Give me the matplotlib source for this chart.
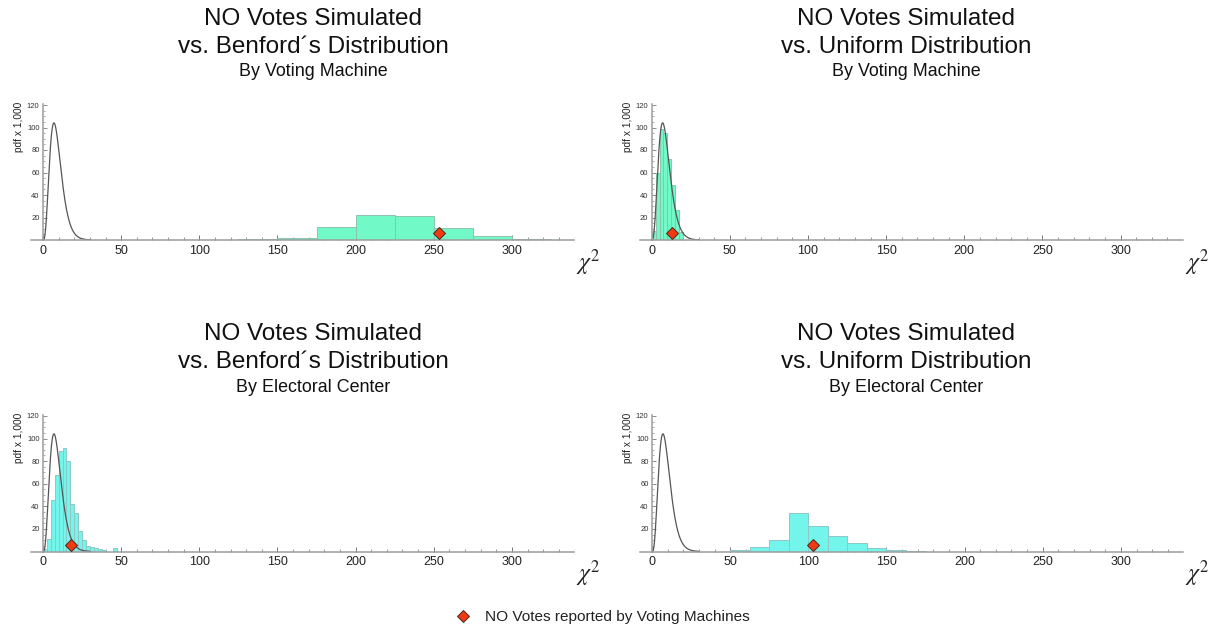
import math
import numpy as np
import matplotlib
matplotlib.use("Agg")
import matplotlib.pyplot as plt
from matplotlib.ticker import FixedLocator
from matplotlib.lines import Line2D

plt.rcParams['font.family'] = ['Liberation Sans', 'DejaVu Sans']
plt.rcParams['mathtext.fontset'] = 'stix'

# ---------------- data ----------------
title_line1 = "NO Votes Simulated"
title_line2 = ["vs. Benford\u00b4s Distribution", "vs. Uniform Distribution",
               "vs. Benford\u00b4s Distribution", "vs. Uniform Distribution"]
title_line3 = ["By Voting Machine", "By Voting Machine",
               "By Electoral Center", "By Electoral Center"]

# histogram bins (pdf x 1,000)
tl_bin_start, tl_bin_width = 125, 25
tl_heights = [0.9, 2.1, 11.8, 22.1, 21.2, 10.5, 3.5, 1.2]

tr_bin_start, tr_bin_width = 0, 2.5
tr_heights = [8, 59.5, 99, 95, 72, 49, 26.5, 7]

bl_bin_start, bl_bin_width = 0, 2.5
bl_heights = [2, 11, 46, 67.5, 89, 92, 80, 42, 34, 18, 10, 5, 4, 3, 2.5, 1.2, 0, 0, 3.5]

br_bin_start, br_bin_width = 50, 12.5
br_heights = [1.2, 3.8, 10.6, 34.5, 23, 13.5, 7.5, 3.2, 1.3, 0.6]

# reported chi-square statistic (red diamonds)
reported_x = [253.5, 12.7, 18.2, 102.8]
reported_y = [6, 6, 6, 6]

# theoretical chi-square density
chi_df = 9
curve_xmax = 30

x_ticks = [0, 50, 100, 150, 200, 250, 300]
y_ticks = [20, 40, 60, 80, 100, 120]

legend_label = "NO Votes reported by Voting Machines"

# ---------------- style ----------------
green = '#72F9C8'
cyan = '#74F5EC'
bar_colors = [green, green, cyan, cyan]
bar_edges = ['#8CC4AE', '#8CC4AE', '#8CC8C6', '#8CC8C6']
axis_gray = '#9c9c9c'
W, H = 1211, 630

fig = plt.figure(figsize=(W / 100, H / 100), dpi=100)

xlim = (-7.4, 340)
ylim = (0, 121)
px_per_unit_x = 1.563
px_per_unit_y = [1.125, 1.125, 1.13, 1.13]
yaxis_px = [43, 651.7, 43, 652]
xaxis_px = [240, 240, 551.5, 551.5]
title_cx = [313, 906, 313, 906]
title_y = [[19, 47, 72], [19, 47, 72], [334, 362, 387], [334, 362, 387]]

hist_data = [(tl_bin_start, tl_bin_width, tl_heights),
             (tr_bin_start, tr_bin_width, tr_heights),
             (bl_bin_start, bl_bin_width, bl_heights),
             (br_bin_start, br_bin_width, br_heights)]

xc = np.linspace(0, curve_xmax, 400)
norm = 2 ** (chi_df / 2) * math.gamma(chi_df / 2)
yc = 1000 * xc ** (chi_df / 2 - 1) * np.exp(-xc / 2) / norm

for i in range(4):
    x0 = yaxis_px[i] + xlim[0] * px_per_unit_x
    x1 = yaxis_px[i] + xlim[1] * px_per_unit_x
    yb = xaxis_px[i]
    yt = yb - ylim[1] * px_per_unit_y[i]
    ax = fig.add_axes([x0 / W, 1 - yb / H, (x1 - x0) / W, (yb - yt) / H])
    ax.set_xlim(*xlim)
    ax.set_ylim(*ylim)
    ax.patch.set_visible(False)

    start, width, heights = hist_data[i]
    lefts = [start + k * width for k in range(len(heights))]
    ax.bar(lefts, heights, width=width, align='edge', color=bar_colors[i],
           edgecolor=bar_edges[i], linewidth=0.7, zorder=2)
    ax.plot(xc, yc, color='#555555', lw=0.9, zorder=3)
    ax.plot([reported_x[i]], [reported_y[i]], marker='D', ms=6.2, color='#F03A12',
            mec='#4a2a20', mew=0.7, ls='none', zorder=5)

    for s in ['top', 'right']:
        ax.spines[s].set_visible(False)
    ax.spines['left'].set_position(('data', 0))
    for s in ['left', 'bottom']:
        ax.spines[s].set_color(axis_gray)
        ax.spines[s].set_linewidth(1.1)
        ax.spines[s].set_zorder(4)

    ax.xaxis.set_major_locator(FixedLocator(x_ticks))
    ax.xaxis.set_minor_locator(FixedLocator([v for v in range(10, 340, 10) if v % 50]))
    ax.yaxis.set_major_locator(FixedLocator(y_ticks))
    ax.yaxis.set_minor_locator(FixedLocator([v for v in range(5, 121, 5) if v % 20]))
    ax.tick_params(axis='x', which='major', direction='in', length=3.5, width=0.7,
                   color='#777777', labelsize=9, labelcolor='#222222', pad=3.5)
    ax.tick_params(axis='x', which='minor', direction='in', length=2, width=0.6,
                   color='#888888')
    ax.tick_params(axis='y', which='major', direction='in', length=3, width=0.6,
                   color='#777777', labelsize=5.5, labelcolor='#333333', pad=2.5)
    ax.tick_params(axis='y', which='minor', direction='in', length=1.6, width=0.5,
                   color='#888888')

    ax.annotate('pdf x 1,000', xy=(0, 1), xycoords=('data', 'axes fraction'),
                xytext=(-24 * 0.72, 2.5 * 0.72), textcoords='offset points',
                rotation=90, ha='center', va='top', fontsize=7.3, color='#222222')
    ax.annotate(r'$\chi^2$', xy=(1, 0), xycoords='axes fraction',
                xytext=(2 * 0.72, -7 * 0.72), textcoords='offset points',
                ha='left', va='top', fontsize=17, color='#222222')

    cx = title_cx[i] / W
    fig.text(cx, 1 - title_y[i][0] / H, title_line1, ha='center', va='center',
             fontsize=17.5, color='#111111')
    fig.text(cx, 1 - title_y[i][1] / H, title_line2[i], ha='center', va='center',
             fontsize=17.5, color='#111111')
    fig.text(cx, 1 - title_y[i][2] / H, title_line3[i], ha='center', va='center',
             fontsize=12.9, color='#111111')

handle = Line2D([], [], marker='D', ms=6.2, color='#F03A12', mec='#4a2a20',
                mew=0.7, ls='none')
fig.legend([handle], [legend_label], loc='center left',
           bbox_to_anchor=((463 - 7.7) / W, 1 - 617 / H), frameon=False,
           fontsize=11.1, handlelength=1.0, handletextpad=0.95,
           borderpad=0, borderaxespad=0, labelcolor='#222222')

fig.savefig('out.png', dpi=100, facecolor='white')
